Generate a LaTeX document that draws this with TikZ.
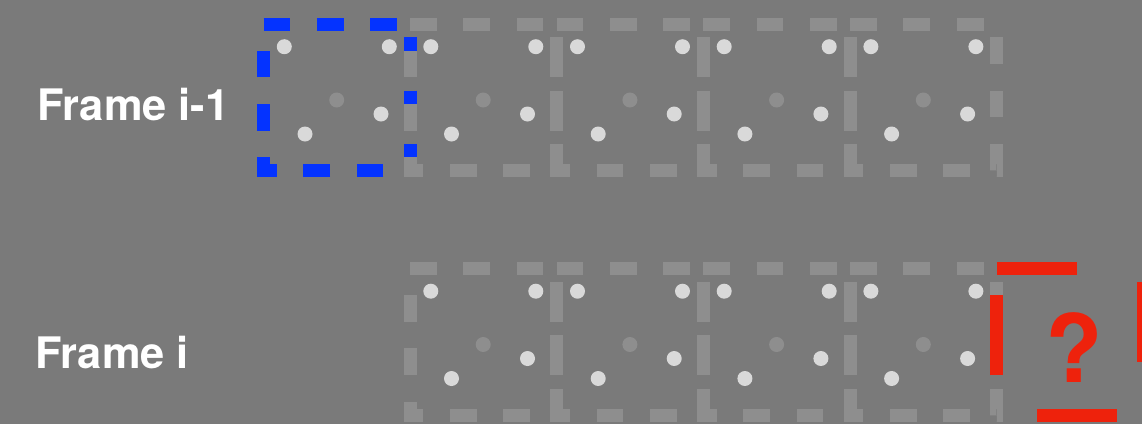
\documentclass[tikz,border=0pt]{standalone}
\usepackage{fontspec}
\setmainfont{TeX Gyre Heros}
\usepackage{xcolor}
\usepackage{tikz}
\usetikzlibrary{positioning}

\definecolor{bgray}{HTML}{7A7A7A}
\definecolor{patchgray}{HTML}{8E8E8E}
\definecolor{dotlight}{HTML}{D9D9D9}
\definecolor{winblue}{HTML}{0433FF}
\definecolor{winred}{HTML}{EE220C}

% one square patch, top-left corner at (#1,#2)
\newcommand{\patchsq}[3]{\draw[#3] (#1,#2) -- ++(146.7,0) -- ++(0,146.7) -- ++(-146.7,0) -- cycle;}

\begin{document}
\begin{tikzpicture}[x=0.5pt,y=-0.5pt,
  patch/.style={line width=6.5pt,dash pattern=on 13.34pt off 13.34pt},
  bigpatch/.style={line width=6.5pt,dash pattern=on 40pt off 40pt,draw=winred},
  lbl/.style={text=white,font=\bfseries\fontsize{21.7}{26}\selectfont,inner sep=0pt,anchor=base west}]
\fill[bgray] (0,0) rectangle (1142,424);
\useasboundingbox (0,0) rectangle (1142,424);

% frame i-1: blue window, then gray patches
\patchsq{263.5}{24}{patch,draw=winblue}
\foreach \px in {410,556.7,703.4,850.1}{
  \patchsq{\px}{24}{patch,draw=patchgray}
  \patchsq{\px}{268.5}{patch,draw=patchgray}
}
% frame i: unknown patch
\patchsq{996.8}{268.5}{bigpatch}

% points inside every patch
\foreach \px/\py in {263.5/24,410/24,556.7/24,703.4/24,850.1/24,
                     410/268.5,556.7/268.5,703.4/268.5,850.1/268.5}{
  \foreach \dx/\dy in {20.8/22.7,125.8/22.7,117.5/90,41.5/110}
    \fill[dotlight] (\px+\dx,\py+\dy) circle[radius=3.75pt];
  \fill[patchgray] (\px+73.2,\py+76) circle[radius=3.75pt];
}

\node[lbl] (prev) at (37,120) {Frame i-1};
\node[lbl] (curr) at (35,368) {Frame i};
\node[text=winred,font=\bfseries\fontsize{47}{50}\selectfont,inner sep=0pt,anchor=base] (query) at (1074.5,382) {?};
\end{tikzpicture}
\end{document}
